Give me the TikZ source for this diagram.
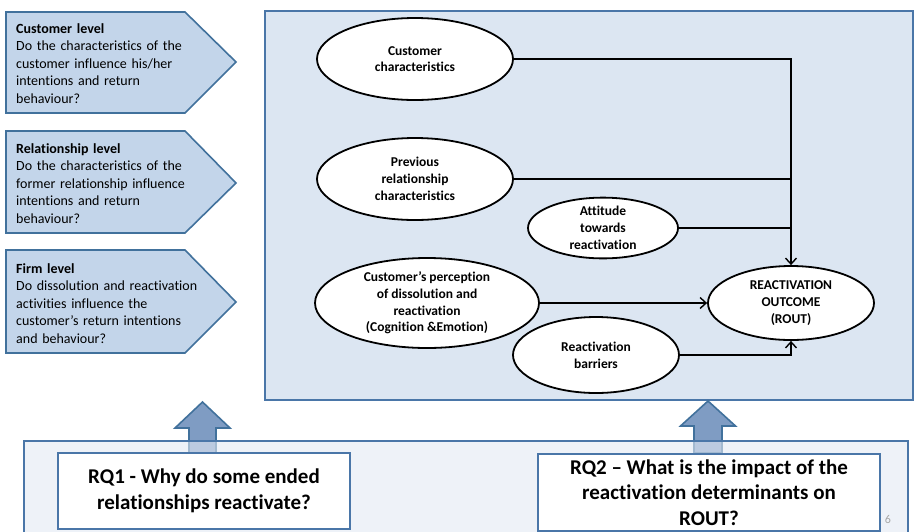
\documentclass[tikz,border=0pt]{standalone}
\usepackage{fontspec}
\setmainfont{Carlito}[Ligatures=NoCommon]
\usetikzlibrary{shapes.geometric,arrows.meta}
\definecolor{boxbg}{HTML}{DCE6F2}
\definecolor{boxline}{HTML}{4A76A8}
\definecolor{pentfill}{HTML}{C3D5EA}
\definecolor{pentline}{HTML}{41719C}
\definecolor{arrfill}{HTML}{7F9CC3}
\definecolor{botbg}{HTML}{E3EAF4}
\begin{document}
\begin{tikzpicture}[x=1pt,y=-1pt,
  pent/.style={draw=pentline,line width=1.6pt,fill=pentfill,line join=miter},
  penttext/.style={anchor=north west,inner sep=0pt,text width=210pt,align=left,font=\fontsize{14}{17.4}\selectfont},
  oval/.style={ellipse,draw=black,line width=1.8pt,fill=white,inner sep=0pt,align=center,font=\bfseries\fontsize{13.5}{16.7}\selectfont},
  conn/.style={line width=1.4pt},
  barb/.style={-{Straight Barb[length=6pt,width=11pt,line width=1.4pt]}},
  rqbox/.style={draw=boxline,line width=1.8pt,fill=white,align=center,inner sep=0pt,font=\bfseries\fontsize{21}{25.5}\selectfont},
  uparrow/.style={draw=pentline,line width=1.6pt,fill=arrfill,line join=miter}]
\useasboundingbox (0,0) rectangle (916,531);
% left pentagons
\path[pent] (6,12) -- (185,12) -- (236,62) -- (185,113) -- (6,113) -- cycle;
\path[pent] (6,131) -- (185,131) -- (236,183) -- (185,233) -- (6,233) -- cycle;
\path[pent] (6,250) -- (185,250) -- (236,302) -- (185,353) -- (6,353) -- cycle;
\node[penttext] (t1) at (16,23.5) {\textbf{Customer level}\\Do the characteristics of the\\customer influence his/her\\intentions and return\\behaviour?};
\node[penttext] (t2) at (16,143.5) {\textbf{Relationship level}\\Do the characteristics of the\\former relationship influence\\intentions and return\\behaviour?};
\node[penttext] (t3) at (16,263.5) {\textbf{Firm level}\\Do dissolution and reactivation\\activities influence the\\customer's return intentions\\and behaviour?};
% main box
\path[draw=boxline,line width=1.8pt,fill=boxbg] (265,11) rectangle (913,400);
% up arrows
\path[uparrow] (202.5,402) -- (230,428) -- (216,428) -- (216,453) -- (189,453) -- (189,428) -- (175,428) -- cycle;
\path[uparrow] (708,401) -- (735.5,426) -- (722,426) -- (722,453) -- (694,453) -- (694,426) -- (680.5,426) -- cycle;
% bottom box
\path[draw=boxline,line width=1.8pt,fill=botbg,fill opacity=0.6] (24,441) rectangle (908,540);
% ellipses
\node[oval,minimum width=196pt,minimum height=82pt] (cc) at (415,59) {Customer\\characteristics};
\node[oval,minimum width=196pt,minimum height=82pt] (pr) at (415,179) {Previous\\relationship\\characteristics};
\node[oval,minimum width=150pt,minimum height=60pt] (at) at (603,228) {Attitude\\towards\\reactivation};
\node[oval,minimum width=224pt,minimum height=90pt] (cp) at (427,303) {Customer’s perception\\of dissolution and\\reactivation\\(Cognition \&Emotion)};
\node[oval,minimum width=166pt,minimum height=76pt] (rb) at (596,355) {Reactivation\\barriers};
\node[oval,minimum width=166pt,minimum height=74pt] (ro) at (791,303) {REACTIVATION\\OUTCOME\\(ROUT)};
% connectors
\draw[conn,barb] (cc.east) -- (cc.east -| ro.north) -- (ro.north);
\draw[conn] (pr.east) -- (pr.east -| ro.north);
\draw[conn] (at.east) -- (at.east -| ro.north);
\draw[conn,barb] (cp.east) -- (ro.west);
\draw[conn,barb] (rb.east) -- (rb.east -| ro.south) -- (ro.south);
% RQ boxes
\node[rqbox,minimum width=292pt,minimum height=76pt] (rq1) at (204,491) {RQ1 - Why do some ended\\relationships reactivate?};
\node[rqbox,minimum width=342pt,minimum height=77pt] (rq2) at (709,492.5) {RQ2 – What is the impact of the\\reactivation determinants on\\ROUT?};
\node[text=gray!70,font=\fontsize{12}{14}\selectfont,anchor=base] (pg) at (888,523) {6};
\end{tikzpicture}
\end{document}
